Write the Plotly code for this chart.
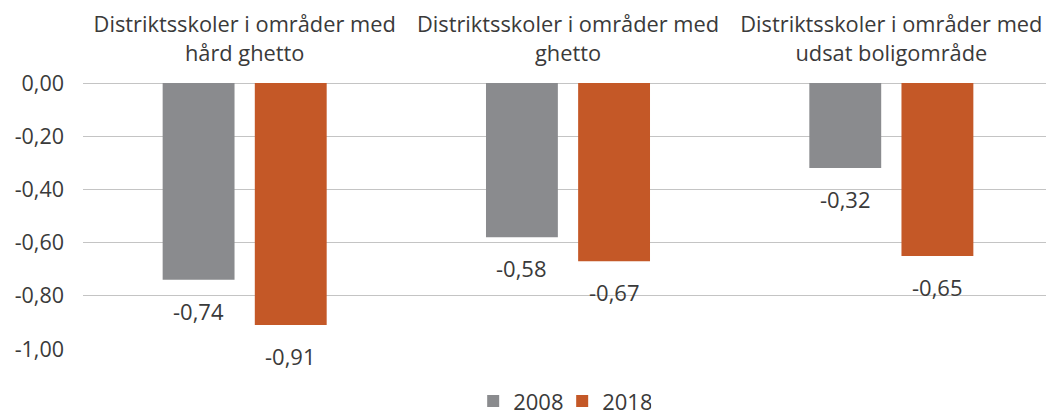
import plotly.graph_objects as go

categories = ["Distriktsskoler i områder med<br>hård ghetto",
              "Distriktsskoler i områder med<br>ghetto",
              "Distriktsskoler i områder med<br>udsat boligområde"]
series_names = ["2008", "2018"]
values_2008 = [-0.74, -0.58, -0.32]
values_2018 = [-0.91, -0.67, -0.65]
y_ticks = [0, -0.2, -0.4, -0.6, -0.8, -1.0]


def fmt(v):
    return f"{v:.2f}".replace(".", ",")


colors = ["#8a8b8e", "#c45827"]
font_family = "Open Sans, Lato, sans-serif"
text_color = "#3a3a3a"
BARGAP = 0.43
GROUPGAP = 0.22

fig = go.Figure()
series = [values_2008, values_2018]
for name, vals, col in zip(series_names, series, colors):
    fig.add_trace(go.Bar(
        x=categories, y=vals, name=name, marker_color=col, marker_line_width=0,
    ))

# value labels below each bar (grouped offsets follow the bar layout)
n = len(series)
slot = (1 - BARGAP) / n
for si, vals in enumerate(series):
    off = -(1 - BARGAP) / 2 + slot * (si + 0.5)
    for ci, v in enumerate(vals):
        fig.add_annotation(
            x=ci + off, y=v, xref="x", yref="y", text=fmt(v),
            showarrow=False, yanchor="top", yshift=-14,
            font=dict(size=22, color=text_color, family=font_family),
        )

fig.update_layout(
    width=1046, height=408,
    margin=dict(l=75, r=1, t=75, b=67),
    barmode="group", bargap=BARGAP, bargroupgap=GROUPGAP,
    plot_bgcolor="white", paper_bgcolor="white",
    font=dict(family=font_family, color=text_color, size=22),
    showlegend=True,
    legend=dict(orientation="h", x=0.494, xanchor="center",
                yref="container", y=0.036, yanchor="middle",
                font=dict(size=22, color=text_color), itemwidth=30,
                entrywidth=44, entrywidthmode="pixels",
                traceorder="normal"),
)
fig.update_xaxes(side="top", showgrid=False, showline=False, ticks="",
                 automargin=False,
                 tickfont=dict(size=21.8, color=text_color),
                 ticklabelstandoff=17)
fig.update_yaxes(range=[-1.0, 0.0], tickvals=y_ticks,
                 ticktext=[fmt(v) for v in y_ticks],
                 automargin=False,
                 showgrid=True, gridcolor="#c4c4c4", gridwidth=1.3,
                 zeroline=True, zerolinecolor="#c4c4c4", zerolinewidth=1.3,
                 ticks="", tickfont=dict(size=21.5, color=text_color),
                 ticklabelstandoff=18)

fig.write_html("out.html")
